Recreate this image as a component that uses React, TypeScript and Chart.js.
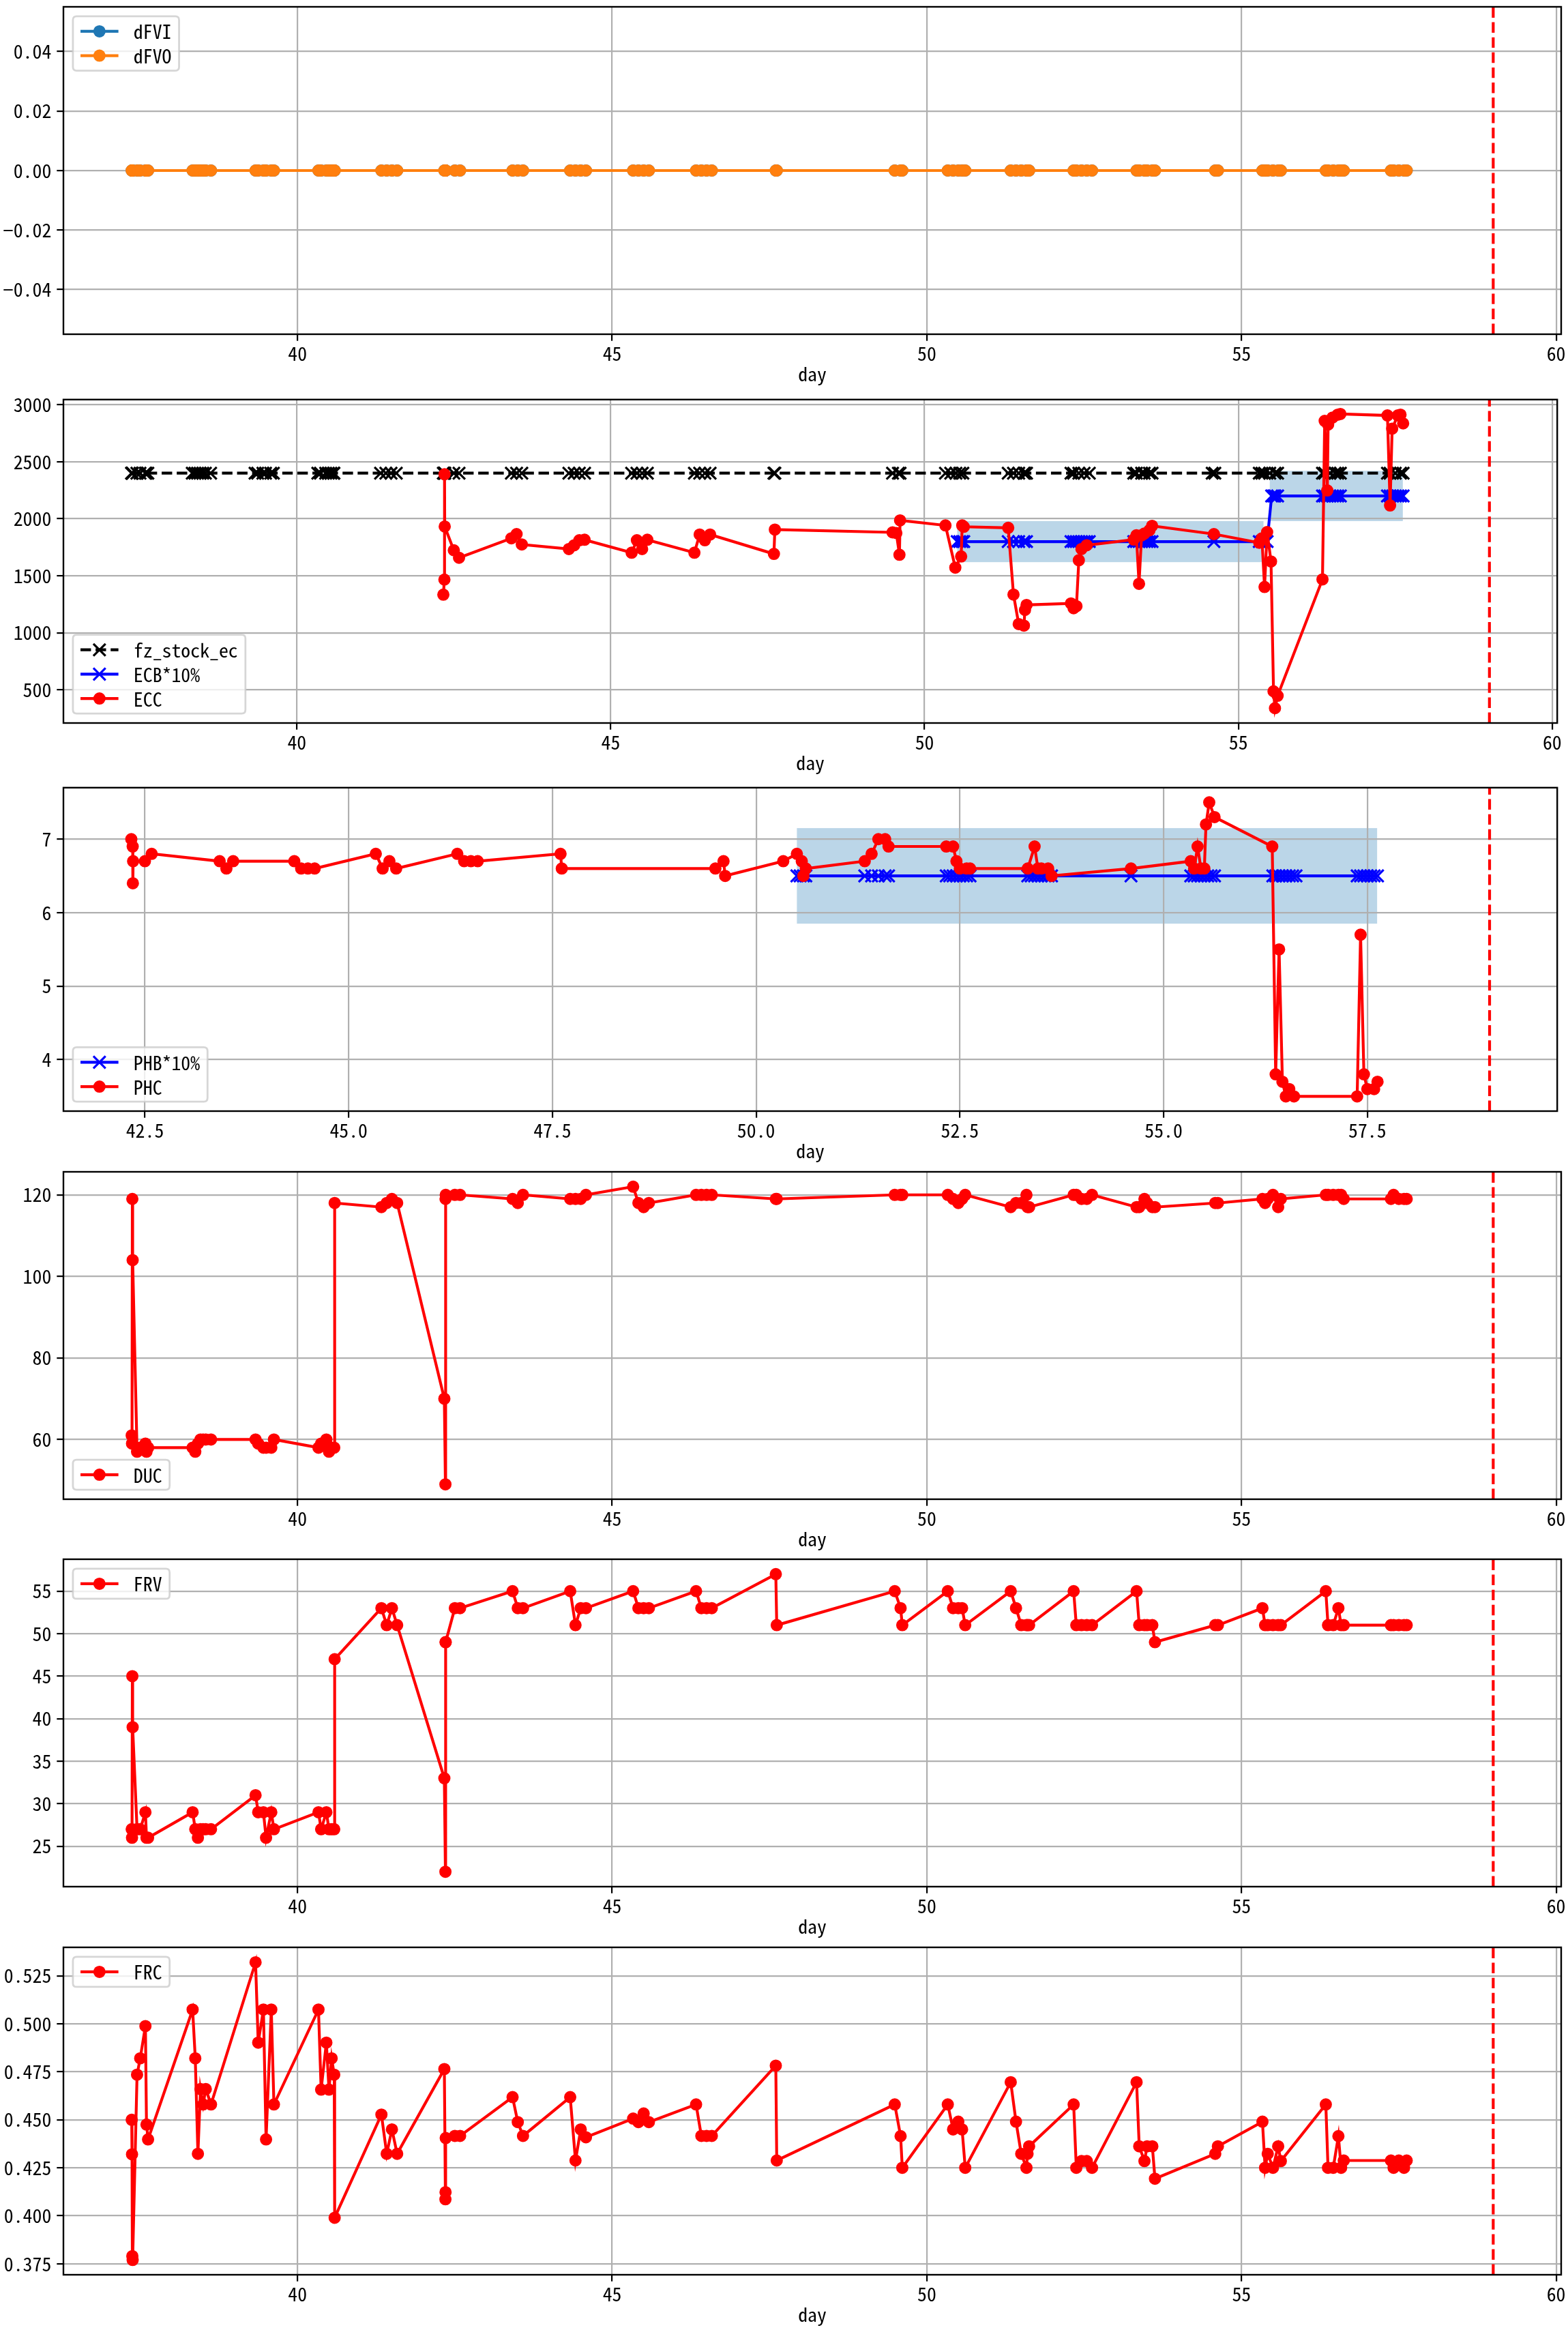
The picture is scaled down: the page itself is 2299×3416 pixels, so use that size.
import React, { useEffect, useRef } from "react";
import { Chart, registerables } from "chart.js";

Chart.register(...registerables);

const FONT = "'Noto Sans Mono CJK SC', 'Noto Sans CJK SC', 'DejaVu Sans Mono', monospace";
const FS = 27.8;
const LW = 4.17;
const DASH = [15.4, 6.7];

// ---------------- data ----------------
const allDays = [
  37.365, 37.37, 37.375, 37.38, 37.45, 37.5, 37.583, 37.6, 37.625,
  38.333, 38.375, 38.417, 38.458, 38.5, 38.542, 38.625,
  39.333, 39.375, 39.458, 39.5, 39.583, 39.625,
  40.333, 40.375, 40.458, 40.5, 40.542, 40.583, 40.59,
  41.333, 41.417, 41.5, 41.583,
  42.333, 42.35, 42.352, 42.355, 42.5, 42.583,
  43.417, 43.5, 43.583,
  44.333, 44.417, 44.5, 44.583,
  45.333, 45.417, 45.5, 45.583,
  46.333, 46.417, 46.5, 46.583,
  47.6, 47.615,
  49.49, 49.583, 49.61,
  50.333, 50.417, 50.5, 50.56, 50.61,
  51.333, 51.417, 51.5, 51.583, 51.6, 51.625,
  52.333, 52.375, 52.458, 52.542, 52.625,
  53.333, 53.375, 53.458, 53.5, 53.583, 53.625,
  54.583, 54.625,
  55.333, 55.375, 55.417, 55.5, 55.583, 55.625,
  56.34, 56.375, 56.458, 56.54, 56.583, 56.625,
  57.375, 57.417, 57.5, 57.583, 57.625,
];

const dFVI = [
  0, 0, 0, 0, 0, 0, 0, 0, 0, 0, 0, 0, 0, 0, 0, 0, 0, 0, 0, 0,
  0, 0, 0, 0, 0, 0, 0, 0, 0, 0, 0, 0, 0, 0, 0, 0, 0, 0, 0, 0,
  0, 0, 0, 0, 0, 0, 0, 0, 0, 0, 0, 0, 0, 0, 0, 0, 0, 0, 0, 0,
  0, 0, 0, 0, 0, 0, 0, 0, 0, 0, 0, 0, 0, 0, 0, 0, 0, 0, 0, 0,
  0, 0, 0, 0, 0, 0, 0, 0, 0, 0, 0, 0, 0, 0, 0, 0, 0, 0, 0, 0,
];
const dFVO = [
  0, 0, 0, 0, 0, 0, 0, 0, 0, 0, 0, 0, 0, 0, 0, 0, 0, 0, 0, 0,
  0, 0, 0, 0, 0, 0, 0, 0, 0, 0, 0, 0, 0, 0, 0, 0, 0, 0, 0, 0,
  0, 0, 0, 0, 0, 0, 0, 0, 0, 0, 0, 0, 0, 0, 0, 0, 0, 0, 0, 0,
  0, 0, 0, 0, 0, 0, 0, 0, 0, 0, 0, 0, 0, 0, 0, 0, 0, 0, 0, 0,
  0, 0, 0, 0, 0, 0, 0, 0, 0, 0, 0, 0, 0, 0, 0, 0, 0, 0, 0, 0,
];
const fzStockEc = [
  2400, 2400, 2400, 2400, 2400, 2400, 2400, 2400, 2400, 2400, 2400, 2400, 2400, 2400, 2400, 2400, 2400, 2400, 2400, 2400,
  2400, 2400, 2400, 2400, 2400, 2400, 2400, 2400, 2400, 2400, 2400, 2400, 2400, 2400, 2400, 2400, 2400, 2400, 2400, 2400,
  2400, 2400, 2400, 2400, 2400, 2400, 2400, 2400, 2400, 2400, 2400, 2400, 2400, 2400, 2400, 2400, 2400, 2400, 2400, 2400,
  2400, 2400, 2400, 2400, 2400, 2400, 2400, 2400, 2400, 2400, 2400, 2400, 2400, 2400, 2400, 2400, 2400, 2400, 2400, 2400,
  2400, 2400, 2400, 2400, 2400, 2400, 2400, 2400, 2400, 2400, 2400, 2400, 2400, 2400, 2400, 2400, 2400, 2400, 2400, 2400,
];

const duc = [
  61, 59, 119, 104, 57, 58, 59, 57, 58,
  58, 57, 59, 60, 60, 60, 60,
  60, 59, 58, 58, 58, 60,
  58, 59, 60, 57, 58, 58, 118,
  117, 118, 119, 118,
  70, 49, 119, 120, 120, 120,
  119, 118, 120,
  119, 119, 119, 120,
  122, 118, 117, 118,
  120, 120, 120, 120,
  119, 119,
  120, 120, 120,
  120, 119, 118, 119, 120,
  117, 118, 118, 120, 117, 117,
  120, 120, 119, 119, 120,
  117, 117, 119, 118, 117, 117,
  118, 118,
  119, 118, 119, 120, 117, 119,
  120, 120, 120, 120, 120, 119,
  119, 120, 119, 119, 119,
];

const frv = [
  27, 26, 45, 39, 27, 27, 29, 26, 26,
  29, 27, 26, 27, 27, 27, 27,
  31, 29, 29, 26, 29, 27,
  29, 27, 29, 27, 27, 27, 47,
  53, 51, 53, 51,
  33, 22, 49, 49, 53, 53,
  55, 53, 53,
  55, 51, 53, 53,
  55, 53, 53, 53,
  55, 53, 53, 53,
  57, 51,
  55, 53, 51,
  55, 53, 53, 53, 51,
  55, 53, 51, 51, 51, 51,
  55, 51, 51, 51, 51,
  55, 51, 51, 51, 51, 49,
  51, 51,
  53, 51, 51, 51, 51, 51,
  55, 51, 51, 53, 51, 51,
  51, 51, 51, 51, 51,
];

const frc = [
  0.45, 0.432, 0.379, 0.377, 0.4735, 0.482, 0.4988, 0.4475, 0.4398,
  0.5074, 0.482, 0.4323, 0.466, 0.458, 0.466, 0.458,
  0.532, 0.4902, 0.5074, 0.4398, 0.5074, 0.458,
  0.5074, 0.4657, 0.4902, 0.4657, 0.482, 0.4735, 0.399,
  0.4527, 0.4323, 0.445, 0.4323,
  0.4764, 0.4086, 0.4123, 0.4405, 0.4416, 0.4416,
  0.4618, 0.4488, 0.4416,
  0.4618, 0.4288, 0.445, 0.4409,
  0.4506, 0.4488, 0.4533, 0.4488,
  0.458, 0.4416, 0.4416, 0.4416,
  0.4782, 0.4288,
  0.458, 0.4415, 0.425,
  0.458, 0.445, 0.449, 0.445, 0.425,
  0.4696, 0.449, 0.4323, 0.425, 0.4323, 0.4362,
  0.458, 0.425, 0.4285, 0.4285, 0.425,
  0.4696, 0.4362, 0.4285, 0.4362, 0.4362, 0.4193,
  0.4323, 0.4362,
  0.449, 0.425, 0.4323, 0.425, 0.4362, 0.4285,
  0.458, 0.425, 0.425, 0.4415, 0.425, 0.4288,
  0.4288, 0.425, 0.4288, 0.425, 0.4288,
];

const eccDays = [
  42.333, 42.35, 42.352, 42.355, 42.5, 42.583,
  43.417, 43.5, 43.583,
  44.333, 44.417, 44.5, 44.583,
  45.333, 45.417, 45.5, 45.583,
  46.333, 46.417, 46.5, 46.583,
  47.6, 47.615,
  49.49, 49.55, 49.6, 49.61,
  50.333, 50.49, 50.583, 50.6, 50.625,
  51.333, 51.417, 51.5, 51.583, 51.6, 51.625,
  52.333, 52.375, 52.42, 52.458, 52.5, 52.583,
  53.333, 53.375, 53.417, 53.458, 53.5, 53.583, 53.625,
  54.61,
  55.333, 55.375, 55.417, 55.458, 55.52, 55.56, 55.583, 55.625,
  56.34, 56.375, 56.417, 56.43, 56.5, 56.583, 56.625,
  57.375, 57.417, 57.45, 57.54, 57.583, 57.625,
];
const ecc = [
  1335, 1467, 2390, 1932, 1724, 1659,
  1829, 1866, 1775,
  1735, 1768, 1812, 1816,
  1703, 1812, 1735, 1816,
  1703, 1862, 1812, 1862,
  1692, 1905,
  1881, 1875, 1685, 1986,
  1942, 1572, 1670, 1942, 1930,
  1921, 1336, 1077, 1064, 1201, 1245,
  1258, 1216, 1234, 1637, 1735, 1768,
  1818, 1855, 1430, 1855, 1870, 1899, 1938,
  1866,
  1790, 1829, 1402, 1884, 1626, 488, 340, 449,
  1469, 2858, 2248, 2826, 2887, 2913, 2919,
  2906, 2117, 2790, 2906, 2913, 2836,
];

const ecbDays = [
  50.52, 50.56, 50.6, 50.625,
  51.333, 51.417, 51.5, 51.583, 51.625,
  52.333, 52.375, 52.417, 52.458, 52.5, 52.542, 52.583, 52.625,
  53.333, 53.375, 53.417, 53.458, 53.5, 53.542, 53.583, 53.625,
  54.61,
  55.333, 55.375, 55.417, 55.458,
  55.53, 55.56, 55.583, 55.625,
  56.34, 56.375, 56.417, 56.458, 56.5, 56.542, 56.583, 56.625,
  57.375, 57.417, 57.458, 57.5, 57.542, 57.583, 57.625,
];
const ecb = [
  1800, 1800, 1800, 1800,
  1800, 1800, 1800, 1800, 1800,
  1800, 1800, 1800, 1800, 1800, 1800, 1800, 1800,
  1800, 1800, 1800, 1800, 1800, 1800, 1800, 1800,
  1800,
  1800, 1800, 1800, 1800,
  2200, 2200, 2200, 2200,
  2200, 2200, 2200, 2200, 2200, 2200, 2200, 2200,
  2200, 2200, 2200, 2200, 2200, 2200, 2200,
];

const phbDays = [
  50.5, 50.54, 50.58, 50.61,
  51.333, 51.417, 51.5, 51.583, 51.625,
  52.333, 52.375, 52.417, 52.458, 52.5, 52.542, 52.583, 52.625,
  53.333, 53.375, 53.417, 53.458, 53.5, 53.542, 53.583, 53.625,
  54.6,
  55.333, 55.375, 55.417, 55.458, 55.5, 55.542, 55.583, 55.625,
  56.34, 56.375, 56.417, 56.458, 56.5, 56.542, 56.583, 56.625,
  57.375, 57.417, 57.458, 57.5, 57.542, 57.583, 57.625,
];
const phb = [
  6.5, 6.5, 6.5, 6.5,
  6.5, 6.5, 6.5, 6.5, 6.5,
  6.5, 6.5, 6.5, 6.5, 6.5, 6.5, 6.5, 6.5,
  6.5, 6.5, 6.5, 6.5, 6.5, 6.5, 6.5, 6.5,
  6.5,
  6.5, 6.5, 6.5, 6.5, 6.5, 6.5, 6.5, 6.5,
  6.5, 6.5, 6.5, 6.5, 6.5, 6.5, 6.5, 6.5,
  6.5, 6.5, 6.5, 6.5, 6.5, 6.5, 6.5,
];

const phcDays = [
  42.333, 42.35, 42.352, 42.355, 42.5, 42.583,
  43.417, 43.5, 43.583,
  44.333, 44.417, 44.5, 44.583,
  45.333, 45.417, 45.5, 45.583,
  46.333, 46.417, 46.5, 46.583,
  47.6, 47.615,
  49.5, 49.6, 49.62,
  50.333, 50.5, 50.56, 50.58, 50.61,
  51.333, 51.417, 51.5, 51.583, 51.625,
  52.333, 52.417, 52.458, 52.5, 52.583, 52.625,
  53.333, 53.417, 53.458, 53.5, 53.583, 53.625,
  54.6,
  55.333, 55.375, 55.417, 55.458, 55.5, 55.52, 55.56, 55.625,
  56.333, 56.375, 56.417, 56.458, 56.5, 56.542, 56.6,
  57.375, 57.417, 57.458, 57.5, 57.583, 57.625,
];
const phc = [
  7.0, 6.9, 6.4, 6.7, 6.7, 6.8,
  6.7, 6.6, 6.7,
  6.7, 6.6, 6.6, 6.6,
  6.8, 6.6, 6.7, 6.6,
  6.8, 6.7, 6.7, 6.7,
  6.8, 6.6,
  6.6, 6.7, 6.5,
  6.7, 6.8, 6.7, 6.5, 6.6,
  6.7, 6.8, 7.0, 7.0, 6.9,
  6.9, 6.9, 6.7, 6.6, 6.6, 6.6,
  6.6, 6.9, 6.6, 6.6, 6.6, 6.5,
  6.6,
  6.7, 6.6, 6.9, 6.6, 6.6, 7.2, 7.5, 7.3,
  6.9, 3.8, 5.5, 3.7, 3.5, 3.6, 3.5,
  3.5, 5.7, 3.8, 3.6, 3.6, 3.7,
];

// ECB / PHB tolerance bands (value ranges in data units)
const ecBandX0 = [50.52, 55.5];
const ecBandX1 = [55.4, 57.62];
const ecBandLo = [1620, 1980];
const ecBandHi = [1980, 2420];
const phBandX0 = [50.5];
const phBandX1 = [57.62];
const phBandLo = [5.85];
const phBandHi = [7.15];

const alertDay = 59;

// axes ranges & ticks
const dayRange = [36.28, 60.08];
const dayTicks = [40, 45, 50, 55, 60];
const phDayRange = [41.5, 59.83];
const phDayTicks = [42.5, 45, 47.5, 50, 52.5, 55, 57.5];
const dfvRange = [-0.055, 0.055];
const dfvTicks = [-0.04, -0.02, 0, 0.02, 0.04];
const ecRange = [210, 3045];
const ecTicks = [500, 1000, 1500, 2000, 2500, 3000];
const phRange = [3.3, 7.7];
const phTicks = [4, 5, 6, 7];
const ducRange = [45.35, 125.65];
const ducTicks = [60, 80, 100, 120];
const frvRange = [20.25, 58.75];
const frvTicks = [25, 30, 35, 40, 45, 50, 55];
const frcRange = [0.3693, 0.5398];
const frcTicks = [0.375, 0.4, 0.425, 0.45, 0.475, 0.5, 0.525];

// ---------------- config ----------------
type Series = {
  label: string;
  days: number[];
  values: number[];
  color: string;
  marker: "o" | "x";
  dash?: number[];
};
type Band = { x0: number; x1: number; lo: number; hi: number };
type Panel = {
  series: Series[];
  xRange: number[];
  xTicks: number[];
  xFmt: (v: number) => string;
  yRange: number[];
  yTicks: number[];
  yFmt: (v: number) => string;
  legendLoc: "upper" | "lower";
  bands: Band[];
};

const minusFmt = (d: number) => (v: number) =>
  (v < -1e-12 ? "\u2212" : "") + Math.abs(v).toFixed(d);
const intFmt = (v: number) => String(Math.round(v));

const mkBands = (x0: number[], x1: number[], lo: number[], hi: number[]): Band[] =>
  x0.map((x, i) => ({ x0: x, x1: x1[i], lo: lo[i], hi: hi[i] }));

const PANELS: Panel[] = [
  {
    series: [
      { label: "dFVI", days: allDays, values: dFVI, color: "#1f77b4", marker: "o" },
      { label: "dFVO", days: allDays, values: dFVO, color: "#ff7f0e", marker: "o" },
    ],
    xRange: dayRange, xTicks: dayTicks, xFmt: intFmt,
    yRange: dfvRange, yTicks: dfvTicks, yFmt: minusFmt(2),
    legendLoc: "upper", bands: [],
  },
  {
    series: [
      { label: "fz_stock_ec", days: allDays, values: fzStockEc, color: "#000000", marker: "x", dash: DASH },
      { label: "ECB*10%", days: ecbDays, values: ecb, color: "#0000ff", marker: "x" },
      { label: "ECC", days: eccDays, values: ecc, color: "#ff0000", marker: "o" },
    ],
    xRange: dayRange, xTicks: dayTicks, xFmt: intFmt,
    yRange: ecRange, yTicks: ecTicks, yFmt: intFmt,
    legendLoc: "lower", bands: mkBands(ecBandX0, ecBandX1, ecBandLo, ecBandHi),
  },
  {
    series: [
      { label: "PHB*10%", days: phbDays, values: phb, color: "#0000ff", marker: "x" },
      { label: "PHC", days: phcDays, values: phc, color: "#ff0000", marker: "o" },
    ],
    xRange: phDayRange, xTicks: phDayTicks, xFmt: (v) => v.toFixed(1),
    yRange: phRange, yTicks: phTicks, yFmt: intFmt,
    legendLoc: "lower", bands: mkBands(phBandX0, phBandX1, phBandLo, phBandHi),
  },
  {
    series: [{ label: "DUC", days: allDays, values: duc, color: "#ff0000", marker: "o" }],
    xRange: dayRange, xTicks: dayTicks, xFmt: intFmt,
    yRange: ducRange, yTicks: ducTicks, yFmt: intFmt,
    legendLoc: "lower", bands: [],
  },
  {
    series: [{ label: "FRV", days: allDays, values: frv, color: "#ff0000", marker: "o" }],
    xRange: dayRange, xTicks: dayTicks, xFmt: intFmt,
    yRange: frvRange, yTicks: frvTicks, yFmt: intFmt,
    legendLoc: "upper", bands: [],
  },
  {
    series: [{ label: "FRC", days: allDays, values: frc, color: "#ff0000", marker: "o" }],
    xRange: dayRange, xTicks: dayTicks, xFmt: intFmt,
    yRange: frcRange, yTicks: frcTicks, yFmt: minusFmt(3),
    legendLoc: "upper", bands: [],
  },
];

const TOPS = [0, 570, 1139, 1708, 2276, 2845];
const W = 2299;
const H = 569;
const XR = 12.6;
const XW = 3.2;

function drawMarker(ctx: CanvasRenderingContext2D, kind: "o" | "x", x: number, y: number, color: string) {
  ctx.save();
  if (kind === "o") {
    ctx.fillStyle = color;
    ctx.beginPath();
    ctx.arc(x, y, 9, 0, Math.PI * 2);
    ctx.fill();
  } else {
    const r = XR * Math.SQRT1_2;
    ctx.strokeStyle = color;
    ctx.lineWidth = XW;
    ctx.setLineDash([]);
    ctx.beginPath();
    ctx.moveTo(x - r, y - r);
    ctx.lineTo(x + r, y + r);
    ctx.moveTo(x - r, y + r);
    ctx.lineTo(x + r, y - r);
    ctx.stroke();
  }
  ctx.restore();
}

function drawLegend(chart: Chart, p: Panel) {
  const ctx = chart.ctx;
  const ca = chart.chartArea;
  ctx.save();
  ctx.font = `${FS}px ${FONT}`;
  const textW = Math.max(...p.series.map((s) => ctx.measureText(s.label).width));
  const pad = 0.4 * FS;
  const hl = 2 * FS;
  const htp = 0.8 * FS;
  const rowH = 21.8;
  const ls = 0.5 * FS;
  const n = p.series.length;
  const w = pad + hl + htp + textW + pad;
  const h = 2 * pad + n * rowH + (n - 1) * ls;
  const x0 = ca.left + 0.5 * FS;
  const y0 = p.legendLoc === "upper" ? ca.top + 0.5 * FS : ca.bottom - 0.5 * FS - h;
  const rr = 0.2 * FS;
  ctx.beginPath();
  ctx.moveTo(x0 + rr, y0);
  ctx.lineTo(x0 + w - rr, y0);
  ctx.quadraticCurveTo(x0 + w, y0, x0 + w, y0 + rr);
  ctx.lineTo(x0 + w, y0 + h - rr);
  ctx.quadraticCurveTo(x0 + w, y0 + h, x0 + w - rr, y0 + h);
  ctx.lineTo(x0 + rr, y0 + h);
  ctx.quadraticCurveTo(x0, y0 + h, x0, y0 + h - rr);
  ctx.lineTo(x0, y0 + rr);
  ctx.quadraticCurveTo(x0, y0, x0 + rr, y0);
  ctx.closePath();
  ctx.fillStyle = "rgba(255,255,255,0.8)";
  ctx.fill();
  ctx.strokeStyle = "rgba(204,204,204,0.8)";
  ctx.lineWidth = 2.78;
  ctx.stroke();
  p.series.forEach((s, i) => {
    const cy = y0 + pad + rowH / 2 + i * (rowH + ls);
    ctx.strokeStyle = s.color;
    ctx.lineWidth = LW;
    ctx.setLineDash(s.dash || []);
    ctx.beginPath();
    ctx.moveTo(x0 + pad, cy);
    ctx.lineTo(x0 + pad + hl, cy);
    ctx.stroke();
    ctx.setLineDash([]);
    drawMarker(ctx, s.marker, x0 + pad + hl / 2, cy, s.color);
    ctx.fillStyle = "#000";
    ctx.textAlign = "left";
    ctx.textBaseline = "middle";
    ctx.fillText(s.label, x0 + pad + hl + htp, cy + 1);
  });
  ctx.restore();
}

function buildChart(canvas: HTMLCanvasElement, p: Panel) {
  const n = p.series.length;
  const datasets = p.series.map((s, i) => ({
    label: s.label,
    data: s.days.map((d, j) => ({ x: d, y: s.values[j] })),
    borderColor: s.color,
    backgroundColor: s.color,
    borderWidth: LW,
    borderDash: s.dash || [],
    pointStyle: s.marker === "o" ? "circle" : "crossRot",
    pointRadius: s.marker === "o" ? 8 : XR,
    pointHoverRadius: s.marker === "o" ? 8 : XR,
    pointBorderWidth: s.marker === "o" ? 2 : XW,
    pointBackgroundColor: s.color,
    pointBorderColor: s.color,
    tension: 0,
    fill: false,
    order: n - 1 - i,
  }));

  const tickFont = { family: FONT, size: FS };
  const grid = {
    color: "#b0b0b0",
    lineWidth: 2.2,
    tickColor: "#000000",
    tickLength: 9.7,
    tickWidth: 2.2,
    drawTicks: true,
  };

  const decor = {
    id: "decor",
    beforeDraw(chart: any) {
      const { ctx, chartArea: ca, scales } = chart;
      const xs = scales.x;
      const ys = scales.y;
      ctx.save();
      ctx.beginPath();
      ctx.rect(ca.left, ca.top, ca.right - ca.left, ca.bottom - ca.top);
      ctx.clip();
      ctx.fillStyle = "rgba(31,119,180,0.3)";
      p.bands.forEach((b) => {
        const px0 = xs.getPixelForValue(b.x0);
        const px1 = xs.getPixelForValue(b.x1);
        const py0 = ys.getPixelForValue(b.hi);
        const py1 = ys.getPixelForValue(b.lo);
        ctx.fillRect(px0, py0, px1 - px0, py1 - py0);
      });
      ctx.restore();
    },
    afterDraw(chart: any) {
      const { ctx, chartArea: ca, scales } = chart;
      const px = scales.x.getPixelForValue(alertDay);
      ctx.save();
      ctx.strokeStyle = "#ff0000";
      ctx.lineWidth = LW;
      ctx.setLineDash(DASH);
      ctx.beginPath();
      ctx.moveTo(px, ca.bottom);
      ctx.lineTo(px, ca.top);
      ctx.stroke();
      ctx.setLineDash([]);
      ctx.strokeStyle = "#000000";
      ctx.lineWidth = 2.4;
      ctx.strokeRect(ca.left, ca.top, ca.right - ca.left, ca.bottom - ca.top);
      ctx.restore();
      drawLegend(chart, p);
    },
  };

  return new Chart(canvas, {
    type: "line",
    data: { datasets: datasets as any },
    options: {
      responsive: false,
      maintainAspectRatio: false,
      animation: false,
      events: [],
      layout: { padding: { left: 0, right: 10, top: 10, bottom: 0 } },
      plugins: { legend: { display: false }, tooltip: { enabled: false } },
      scales: {
        x: {
          type: "linear",
          min: p.xRange[0],
          max: p.xRange[1],
          afterBuildTicks: (s: any) => {
            s.ticks = p.xTicks.map((v) => ({ value: v }));
          },
          afterFit: (s: any) => {
            s.height = 79;
            s.paddingLeft = 0;
            s.paddingRight = 0;
            s.paddingTop = 0;
            s.paddingBottom = 0;
          },
          ticks: {
            font: tickFont,
            color: "#000000",
            padding: 2,
            maxRotation: 0,
            minRotation: 0,
            autoSkip: false,
            callback: (v: any) => p.xFmt(Number(v)),
          },
          grid,
          border: { display: false },
          title: {
            display: true,
            text: "day",
            color: "#000000",
            font: tickFont,
            padding: { top: 0, bottom: 4 },
          },
        },
        y: {
          type: "linear",
          min: p.yRange[0],
          max: p.yRange[1],
          afterBuildTicks: (s: any) => {
            s.ticks = p.yTicks.map((v) => ({ value: v }));
          },
          afterFit: (s: any) => {
            s.width = 93;
            s.paddingLeft = 0;
            s.paddingRight = 0;
            s.paddingTop = 0;
            s.paddingBottom = 0;
          },
          ticks: {
            font: tickFont,
            color: "#000000",
            padding: 8,
            autoSkip: false,
            callback: (v: any) => p.yFmt(Number(v)),
          },
          grid,
          border: { display: false },
        },
      },
    } as any,
    plugins: [decor as any],
  });
}

export default function App() {
  const refs = useRef<(HTMLCanvasElement | null)[]>([]);
  useEffect(() => {
    const charts = PANELS.map((p, i) => buildChart(refs.current[i] as HTMLCanvasElement, p));
    return () => charts.forEach((c) => c.destroy());
  }, []);
  return (
    <div style={{ position: "absolute", left: 0, top: 0, width: W, height: 3416, background: "#ffffff" }}>
      {PANELS.map((_, i) => (
        <div key={i} style={{ position: "absolute", left: 0, top: TOPS[i], width: W, height: H }}>
          <canvas
            ref={(el) => {
              refs.current[i] = el;
            }}
            width={W}
            height={H}
            style={{ width: W, height: H, display: "block" }}
          />
        </div>
      ))}
    </div>
  );
}
